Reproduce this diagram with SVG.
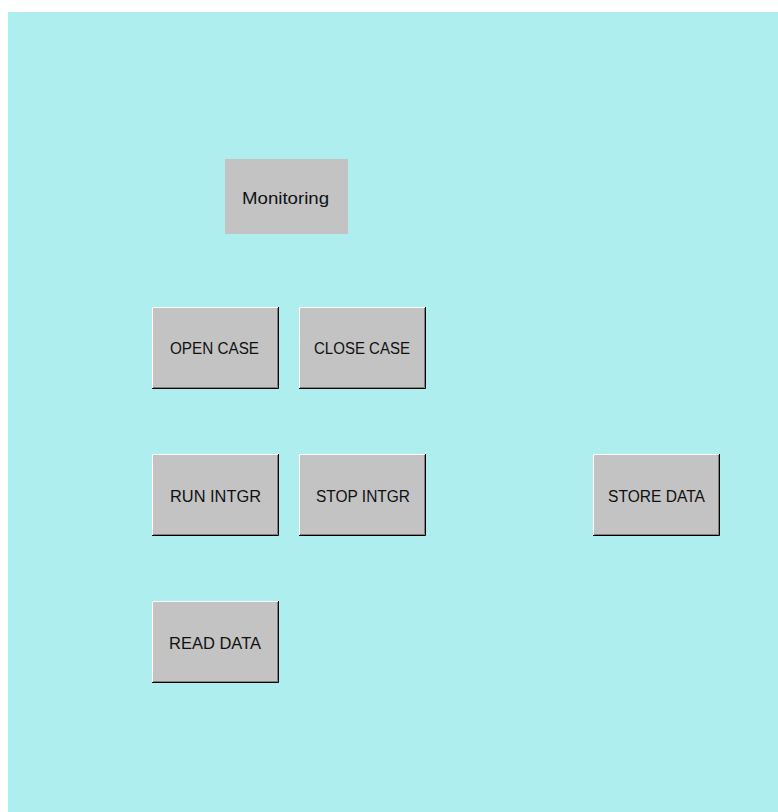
<svg xmlns="http://www.w3.org/2000/svg" width="778" height="812" viewBox="0 0 778 812">
<style>
.face{fill:#c3c3c3}
.hi{stroke:#ffffff;stroke-width:1;fill:none}
.sh{stroke:#808080;stroke-width:1;fill:none}
.dk{stroke:#000000;stroke-width:1;fill:none}
.lbl{font-family:"Liberation Sans",Arial,sans-serif;font-size:16px;fill:#111;text-anchor:middle}
</style>
<defs>
<g id="btn">
<rect class="face" x="0" y="0" width="127" height="82"/>
<path class="hi" d="M0.5,81 V0.5 H126"/>
<path class="sh" d="M1,80.5 H125.5 V1"/>
<path class="dk" d="M0,81.5 H126.5 V0"/>
</g>
</defs>
<rect x="0" y="0" width="778" height="812" fill="#ffffff"/>
<rect x="8" y="12" width="770" height="800" fill="#afeeee"/>
<g id="monitoring">
<rect class="face" x="225" y="159" width="123" height="75"/>
<text class="lbl" x="285.5" y="204" textLength="87" lengthAdjust="spacingAndGlyphs">Monitoring</text>
</g>
<g id="open-case"><use href="#btn" x="152" y="307"/><text class="lbl" x="214.5" y="354" textLength="89" lengthAdjust="spacingAndGlyphs">OPEN CASE</text></g>
<g id="close-case"><use href="#btn" x="299" y="307"/><text class="lbl" x="362" y="354" textLength="96" lengthAdjust="spacingAndGlyphs">CLOSE CASE</text></g>
<g id="run-intgr"><use href="#btn" x="152" y="454"/><text class="lbl" x="215.5" y="501.5" textLength="91" lengthAdjust="spacingAndGlyphs">RUN INTGR</text></g>
<g id="stop-intgr"><use href="#btn" x="299" y="454"/><text class="lbl" x="363" y="501.5" textLength="94" lengthAdjust="spacingAndGlyphs">STOP INTGR</text></g>
<g id="store-data"><use href="#btn" x="593" y="454"/><text class="lbl" x="656.5" y="501.5" textLength="97" lengthAdjust="spacingAndGlyphs">STORE DATA</text></g>
<g id="read-data"><use href="#btn" x="152" y="601"/><text class="lbl" x="215" y="648.5" textLength="92" lengthAdjust="spacingAndGlyphs">READ DATA</text></g>
<g id="connectors"></g>
</svg>
